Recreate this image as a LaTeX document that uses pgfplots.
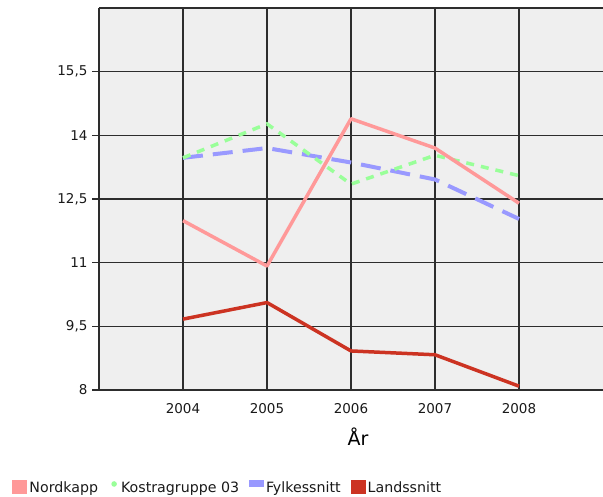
\documentclass[border=0pt]{standalone}
\usepackage{pgfplots}
\pgfplotsset{compat=1.18}
\usepackage{fontspec}
\setmainfont{DejaVu Sans}
\definecolor{cNord}{RGB}{255,153,153}
\definecolor{cKost}{RGB}{153,255,153}
\definecolor{cFylk}{RGB}{153,153,255}
\definecolor{cLand}{RGB}{204,51,34}
\definecolor{bgc}{RGB}{239,239,239}
\definecolor{gridc}{RGB}{45,45,45}
\begin{document}
\begin{tikzpicture}[x=1pt,y=1pt]
\path[use as bounding box] (-99,-107) rectangle (504,390);
\begin{axis}[
  scale only axis, width=504pt, height=382pt,
  xmin=2003, xmax=2009, ymin=8, ymax=17,
  xtick={2004,2005,2006,2007,2008},
  ytick={8,9.5,11,12.5,14,15.5},
  axis x line*=box, axis y line*=left,
  axis line style={gridc, line width=1.1pt},
  grid=major, major grid style={gridc, line width=1.1pt},
  axis background/.style={fill=bgc},
  xtick style={draw=none},
  ytick style={gridc, line width=1.1pt},
  tick align=outside, major tick length=7pt,
  /pgf/number format/assume math mode=true,
  /pgf/number format/use comma,
  /pgf/number format/1000 sep={},
  ticklabel style={font=\fontsize{13.5}{15}\selectfont, text=black!90},
  yticklabel style={xshift=-1pt},
  xticklabel style={yshift=-3pt},
  xlabel={År},
  xlabel style={font=\fontsize{19}{22}\selectfont, yshift=-7pt, xshift=7pt},
  reverse legend,
  legend columns=4,
  legend style={at={(axis description cs:-0.178,-0.2565)}, anchor=west, draw=none, fill=none,
    font=\fontsize{14.2}{16}\selectfont, text=black!90,
    /tikz/every even column/.append style={column sep=8pt},
    nodes={inner xsep=2pt}},
]
\addplot[cLand, line width=3.5pt, line join=round,
  legend image code/.code={\path[draw=none, fill=cLand] (0pt,-6pt) rectangle (15pt,8pt);}]
  coordinates {(2004,9.67)(2005,10.06)(2006,8.92)(2007,8.83)(2008,8.09)};
\addlegendentry{Landssnitt}
\addplot[cFylk, line width=4pt, dash pattern=on 20pt off 10pt,
  legend image code/.code={\path[draw=none, fill=cFylk] (0pt,1pt) rectangle (15pt,8pt);}]
  coordinates {(2004,13.47)(2005,13.70)(2006,13.36)(2007,12.96)(2008,12.03)};
\addlegendentry{Fylkessnitt}
\addplot[cKost, line width=3.5pt, dash pattern=on 8pt off 7pt,
  legend image code/.code={\path[draw=none] (0pt,-6pt) rectangle (11pt,8pt); \path[draw=none, fill=cKost] (6pt,4pt) circle (2.8pt);}]
  coordinates {(2004,13.47)(2005,14.27)(2006,12.85)(2007,13.53)(2008,13.05)};
\addlegendentry{Kostragruppe 03}
\addplot[cNord, line width=3.5pt, line join=round,
  legend image code/.code={\path[draw=none, fill=cNord] (0pt,-6pt) rectangle (15pt,8pt);}]
  coordinates {(2004,11.99)(2005,10.92)(2006,14.39)(2007,13.70)(2008,12.40)};
\addlegendentry{Nordkapp}
\end{axis}
\end{tikzpicture}
\end{document}
